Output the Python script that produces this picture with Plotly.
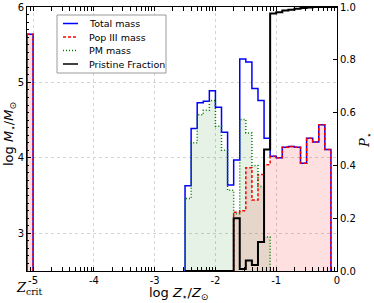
import numpy as np
import plotly.graph_objects as go

# ---- data (log Z bins of width 0.1 dex) ----
bin_width = 0.1
first_edge = -5.1
last_edge = 0.0
zcrit_bin_mass = 5.64          # bin just below Z_crit (-5.1 .. -5.0)

total_start = -2.5
total_mass = [3.63, 4.39, 4.73, 4.75, 4.89, 4.67, 4.34, 3.64, 3.97, 5.31, 5.27, 4.92,
              4.76, 4.26, 4.02, 4.00, 4.14, 4.15, 4.14, 3.93, 4.26, 4.21, 4.44, 4.11]

pop3_start = -1.7
pop3_mass = [3.28, 3.30, 3.87, 3.44, 3.78, 3.91, 4.02, 4.00, 4.14, 4.15, 4.14, 3.93,
             4.26, 4.21, 4.44, 4.11]

pm_start = -2.5
pm_mass = [3.46, 4.20, 4.57, 4.63, 4.76, 4.42, 4.10, 3.57, 3.26, 4.51, 4.33, 3.90,
           3.62, 2.95]

pristine_start = -2.5
pristine_frac = [0, 0, 0, 0, 0, 0, 0, 0, 0.20, 0.008, 0.04, 0.023, 0.11, 0.46,
                 0.975, 0.98, 0.987, 0.99, 0.993, 0.996, 0.998, 1.0, 1.0, 1.0, 1.0]

x_tick_vals = [-5, -4, -3, -2, -1, 0]
x_tick_text = ["-5", "-4", "-3", "-2", "-1", "0"]
y_tick_vals = [3, 4, 5, 6]
p_tick_vals = [0.0, 0.2, 0.4, 0.6, 0.8, 1.0]

series_names = ["Total mass", "Pop III mass", "PM mass", "Pristine Fraction"]
series_colors = ["blue", "red", "green", "black"]
series_dash = ["solid", "3px,2px", "1px,2px", "solid"]

# ---- build step histograms ----
nbins = int(round((last_edge - first_edge) / bin_width))
edges = np.round(first_edge + bin_width * np.arange(nbins + 1), 3)


def full_bins(start, vals, zcrit=None):
    arr = np.zeros(nbins)
    i0 = int(round((start - first_edge) / bin_width))
    arr[i0:i0 + len(vals)] = vals
    if zcrit is not None:
        arr[0] = zcrit
    return arr


def step_xy(arr):
    xs = [edges[0]] + list(edges)
    ys = [0.0] + list(arr) + [0.0]
    return xs, ys


tot = full_bins(total_start, total_mass, zcrit_bin_mass)
p3 = full_bins(pop3_start, pop3_mass, zcrit_bin_mass)
pm = full_bins(pm_start, pm_mass)

fig = go.Figure()

x, y = step_xy(p3)
fig.add_trace(go.Scatter(x=x, y=y, mode="lines", fill="tozeroy",
                         fillcolor="rgba(255,0,0,0.12)", line=dict(width=0, shape="hv"),
                         showlegend=False, hoverinfo="skip"))
x, y = step_xy(pm)
fig.add_trace(go.Scatter(x=x, y=y, mode="lines", fill="tozeroy",
                         fillcolor="rgba(0,128,0,0.10)", line=dict(width=0, shape="hv"),
                         showlegend=False, hoverinfo="skip"))

for arr, nm, col, dsh in zip([tot, p3, pm], series_names[:3], series_colors[:3], series_dash[:3]):
    x, y = step_xy(arr)
    fig.add_trace(go.Scatter(x=x, y=y, mode="lines", name=nm, showlegend=False,
                             line=dict(shape="hv", color=col, width=1.5, dash=dsh)))

i0 = int(round((pristine_start - first_edge) / bin_width))
px = list(edges[i0:i0 + len(pristine_frac) + 1])
py = list(pristine_frac) + [pristine_frac[-1]]
fig.add_trace(go.Scatter(x=px, y=py, mode="lines", name=series_names[3], yaxis="y2",
                         showlegend=False,
                         line=dict(shape="hv", color="black", width=2)))

minor_x = [m + np.log10(k) for m in range(-6, 1) for k in range(2, 10)]
minor_x = [v for v in minor_x if -5.1 <= v <= 0]

font = dict(family="DejaVu Sans", size=10, color="black")

# ---- manual legend (paper coordinates) ----
L, R, T, B = 27, 337, 7, 271          # plot area in pixels
def pxx(p):
    return (p - L) / (R - L)
def pxy(p):
    return (B - p) / (B - T)

shapes = [dict(type="rect", xref="paper", yref="paper", x0=pxx(57), x1=pxx(166),
               y0=pxy(73), y1=pxy(15), line=dict(color="#9a9a9a", width=1),
               fillcolor="white", layer="above")]
annotations = []
row_y = [23.5, 37, 50.5, 64]
for ry, nm, col, dsh in zip(row_y, series_names, series_colors, series_dash):
    shapes.append(dict(type="line", xref="paper", yref="paper", x0=pxx(63), x1=pxx(78),
                       y0=pxy(ry), y1=pxy(ry), layer="above",
                       line=dict(color=col, width=1.5, dash=dsh)))
    annotations.append(dict(text=nm, xref="paper", yref="paper", x=pxx(87), y=pxy(ry),
                            xanchor="left", yanchor="middle", showarrow=False,
                            font=dict(family="DejaVu Sans", size=9.5, color="black")))

annotations += [
    dict(text="<i>Z</i><sub>crit</sub>", x=pxx(29), xref="paper", xanchor="center",
         y=pxy(288), yref="paper", yanchor="middle", showarrow=False,
         font=dict(family="DejaVu Serif", size=13, color="black")),
    dict(text="log <i>Z</i><sub>⋆</sub>/<i>Z</i><sub>⊙</sub>",
         x=pxx(178), xref="paper", xanchor="center", y=pxy(293), yref="paper",
         yanchor="middle", showarrow=False,
         font=dict(family="DejaVu Sans", size=13, color="black")),
    dict(text="log <i>M</i><sub>⋆</sub>/<i>M</i><sub>⊙</sub>",
         x=pxx(9), xref="paper", xanchor="center", y=pxy(134), yref="paper",
         yanchor="middle", showarrow=False, textangle=-90,
         font=dict(family="DejaVu Sans", size=13, color="black")),
    dict(text="<i>P</i><sub>⋆</sub>", x=pxx(365), xref="paper", xanchor="center",
         y=pxy(140), yref="paper", yanchor="middle", showarrow=False, textangle=-90,
         font=dict(family="DejaVu Serif", size=13, color="black")),
]

fig.update_layout(
    width=374, height=303,
    margin=dict(l=L, r=374 - R, t=T, b=303 - B, autoexpand=False),
    paper_bgcolor="white", plot_bgcolor="white",
    font=font,
    showlegend=False,
    hovermode=False,
    xaxis=dict(range=[-5.1, 0], tickmode="array", tickvals=x_tick_vals, ticktext=x_tick_text,
               ticks="inside", ticklen=4, tickcolor="black", showline=True, linecolor="black",
               linewidth=1, mirror="allticks", showgrid=True, gridcolor="#d4d4d4", griddash="dot",
               gridwidth=1, zeroline=False, tickfont=font, automargin=False,
               minor=dict(tickmode="array", tickvals=minor_x, ticks="inside", ticklen=2,
                          tickcolor="black", showgrid=False)),
    yaxis=dict(range=[2.5, 6], tickmode="array", tickvals=y_tick_vals,
               ticks="inside", ticklen=4, tickcolor="black", showline=True, linecolor="black",
               linewidth=1, showgrid=True, gridcolor="#d4d4d4", griddash="dot", gridwidth=1,
               zeroline=False, tickfont=font, automargin=False,
               minor=dict(dtick=0.1, ticks="inside", ticklen=2, tickcolor="black", showgrid=False)),
    yaxis2=dict(range=[0, 1], overlaying="y", side="right", tickmode="array",
                tickvals=p_tick_vals, tickformat=".1f", ticks="inside", ticklen=4,
                tickcolor="black", showline=True, linecolor="black", linewidth=1,
                showgrid=False, zeroline=False, tickfont=font, automargin=False),
    shapes=shapes,
    annotations=annotations,
)

# remove the browser's default 8px page margin so the figure fills the window exactly
fig.write_html("out.html", config={"displayModeBar": False, "staticPlot": True},
               post_script="document.body.style.margin='0';")
